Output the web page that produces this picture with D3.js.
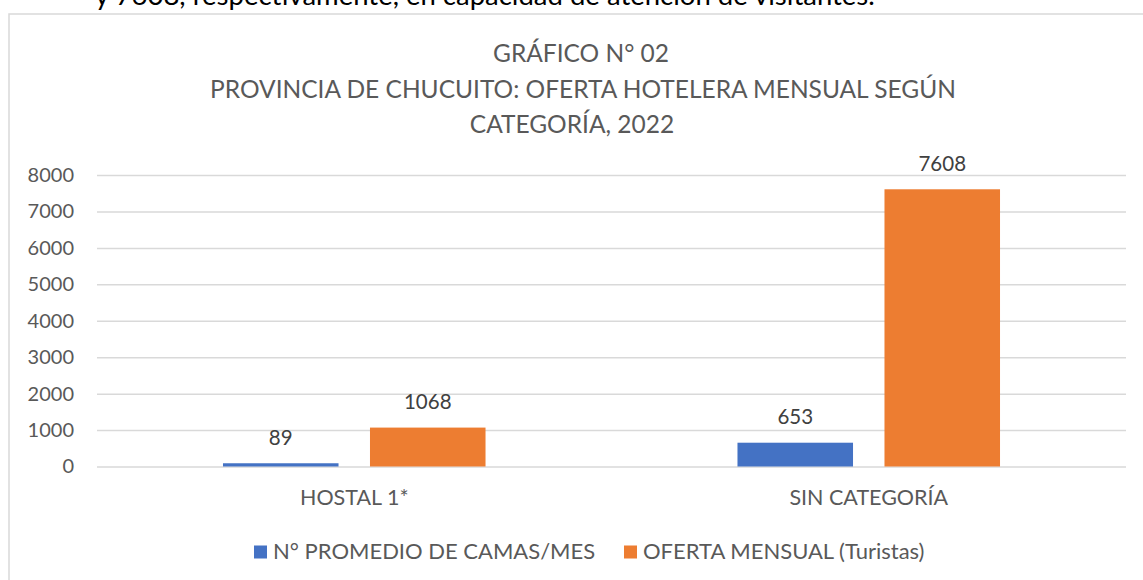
<!DOCTYPE html>
<html>
<head>
<meta charset="utf-8">
<script src="https://cdn.jsdelivr.net/npm/d3@7"></script>
<style>
  html, body { margin: 0; padding: 0; background: #fff; }
  svg { display: block; font-family: Lato, "Open Sans", sans-serif; }
</style>
</head>
<body>
<svg id="chart" width="1143" height="580"></svg>
<script>
// Hotel supply by category, Chucuito province, 2022
const categories = ["HOSTAL 1*", "SIN CATEGORÍA"];
const seriesNames = ["N° PROMEDIO DE CAMAS/MES", "OFERTA MENSUAL (Turistas)"];
const camasMes = [89, 653];
const ofertaMensual = [1068, 7608];
const yTicks = [0, 1000, 2000, 3000, 4000, 5000, 6000, 7000, 8000];
const titleLines = [
  "GRÁFICO N° 02",
  "PROVINCIA DE CHUCUITO: OFERTA HOTELERA MENSUAL SEGÚN",
  "CATEGORÍA, 2022"
];
const seriesColors = ["#4472C4", "#ED7D31"];

const rows = categories.map((c, i) => ({ cat: c, values: [camasMes[i], ofertaMensual[i]] }));

const svg = d3.select("#chart");

// paragraph text running above the chart frame
svg.append("text")
  .attr("x", 95).attr("y", 5)
  .attr("font-family", "Lato, sans-serif")
  .attr("font-size", 27.5)
  .attr("fill", "#000")
  .text("y 7608, respectivamente, en capacidad de atención de visitantes.");

// chart frame
svg.append("rect")
  .attr("x", 9).attr("y", 14)
  .attr("width", 1160).attr("height", 600)
  .attr("fill", "#fff")
  .attr("stroke", "#d9d9d9")
  .attr("stroke-width", 1.5);

const plot = { left: 97, right: 1126, top: 175, bottom: 466.5 };

const x = d3.scaleBand().domain(categories).range([plot.left, plot.right]).padding(0);
const xs = d3.scaleBand().domain(d3.range(seriesNames.length))
  .range([0, x.bandwidth()]).paddingInner(0.214).paddingOuter(0.857);
const y = d3.scaleLinear().domain([0, 8000]).range([plot.bottom, plot.top]);

// title
const titleX = [581, 583, 572];
const titleY = [62, 98, 133];
svg.append("g").selectAll("text").data(titleLines).join("text")
  .attr("x", (d, i) => titleX[i])
  .attr("y", (d, i) => titleY[i])
  .attr("text-anchor", "middle")
  .attr("font-size", 24.5)
  .attr("fill", "#595959")
  .text(d => d);

// y axis with gridlines
const yAxis = d3.axisLeft(y).tickValues(yTicks).tickFormat(d3.format("d"))
  .tickSize(-(plot.right - plot.left)).tickPadding(23);
const gy = svg.append("g").attr("transform", `translate(${plot.left},0)`).call(yAxis);
gy.select(".domain").remove();
gy.selectAll(".tick line").attr("stroke", "#d9d9d9").attr("stroke-width", 1.5);
gy.selectAll(".tick text")
  .attr("font-size", 20)
  .attr("font-family", "Lato, sans-serif")
  .attr("fill", "#595959");

// x axis labels
const xAxis = d3.axisBottom(x).tickSize(0).tickPadding(23);
const gx = svg.append("g").attr("transform", `translate(0,${plot.bottom})`).call(xAxis);
gx.select(".domain").remove();
gx.selectAll(".tick text")
  .attr("font-size", 21.5)
  .attr("font-family", "Lato, sans-serif")
  .attr("fill", "#595959");

// bars
const groups = svg.append("g").selectAll("g").data(rows).join("g")
  .attr("transform", d => `translate(${x(d.cat)},0)`);

groups.selectAll("rect").data(d => d.values).join("rect")
  .attr("x", (d, i) => xs(i))
  .attr("width", xs.bandwidth())
  .attr("y", d => y(d))
  .attr("height", d => y(0) - y(d))
  .attr("fill", (d, i) => seriesColors[i]);

// value labels
groups.selectAll("text.val").data(d => d.values).join("text")
  .attr("class", "val")
  .attr("x", (d, i) => xs(i) + xs.bandwidth() / 2)
  .attr("y", d => y(d) - 18.5)
  .attr("text-anchor", "middle")
  .attr("font-size", 20.5)
  .attr("fill", "#404040")
  .text(d => d);

// legend
const legendX = [254, 624];
const legend = svg.append("g").selectAll("g").data(seriesNames).join("g")
  .attr("transform", (d, i) => `translate(${legendX[i]},545.5)`);
legend.append("rect")
  .attr("width", 13).attr("height", 13)
  .attr("fill", (d, i) => seriesColors[i]);
legend.append("text")
  .attr("x", 19).attr("y", 13.5)
  .attr("font-size", 22)
  .attr("fill", "#595959")
  .text(d => d);
</script>
</body>
</html>
